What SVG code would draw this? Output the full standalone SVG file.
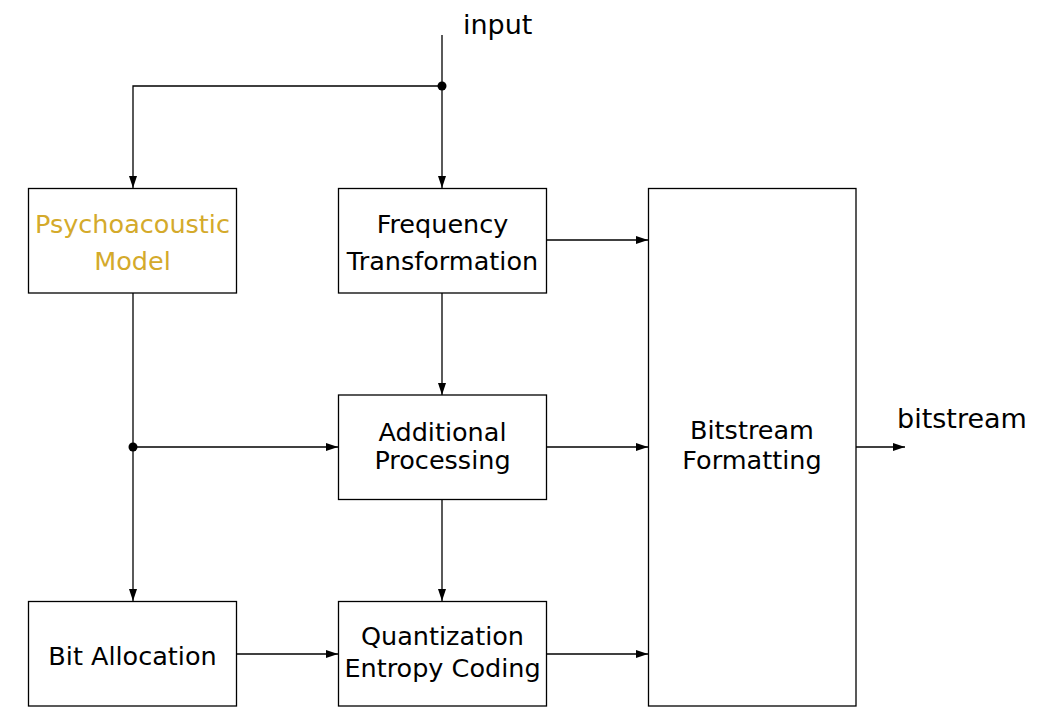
<svg xmlns="http://www.w3.org/2000/svg" width="1043" height="724" viewBox="0 0 1043 724">
<style>
.box{fill:#fff;stroke:#000;stroke-width:1.3}
.lbl{font-family:"DejaVu Sans",sans-serif;font-size:25.5px;fill:#000;text-anchor:middle}
.big{font-family:"DejaVu Sans",sans-serif;font-size:27px;fill:#000}
.gold{fill:#D4AA2B}
.w{fill:none;stroke:#000;stroke-width:1.3}
</style>
<defs>
<marker id="ah" markerUnits="userSpaceOnUse" markerWidth="13" markerHeight="10" refX="12" refY="5" orient="auto">
<path d="M0,1 L12,5 L0,9 z" fill="#000"/>
</marker>
</defs>
<g id="connectors">
<path class="w" d="M442,35 V188" marker-end="url(#ah)"/>
<path class="w" d="M442,86 H133 V188" marker-end="url(#ah)"/>
<path class="w" d="M133,293 V601" marker-end="url(#ah)"/>
<path class="w" d="M133,447 H338" marker-end="url(#ah)"/>
<path class="w" d="M442,293 V395" marker-end="url(#ah)"/>
<path class="w" d="M442,499 V601" marker-end="url(#ah)"/>
<path class="w" d="M236,654 H338" marker-end="url(#ah)"/>
<path class="w" d="M546,240 H648" marker-end="url(#ah)"/>
<path class="w" d="M546,447 H648" marker-end="url(#ah)"/>
<path class="w" d="M546,654 H648" marker-end="url(#ah)"/>
<path class="w" d="M856,447 H905" marker-end="url(#ah)"/>
<circle cx="442" cy="86" r="4.5" fill="#000"/>
<circle cx="133" cy="447" r="4.5" fill="#000"/>
</g>
<g id="input"><text class="big" x="463" y="34">input</text></g>
<g id="bitstream"><text class="big" x="897" y="428">bitstream</text></g>
<g id="psycho">
<rect class="box" x="28.5" y="188.5" width="208" height="104.5"/>
<text class="lbl gold" x="132.5" y="233">Psychoacoustic</text>
<text class="lbl gold" x="132.5" y="270">Model</text>
</g>
<g id="freq">
<rect class="box" x="338.5" y="188.5" width="208" height="104.5"/>
<text class="lbl" x="442.5" y="233">Frequency</text>
<text class="lbl" x="442.5" y="270">Transformation</text>
</g>
<g id="addproc">
<rect class="box" x="338.5" y="395" width="208" height="104.5"/>
<text class="lbl" x="442.5" y="441">Additional</text>
<text class="lbl" x="442.5" y="469">Processing</text>
</g>
<g id="quant">
<rect class="box" x="338.5" y="601.5" width="208" height="104.5"/>
<text class="lbl" x="442.5" y="645">Quantization</text>
<text class="lbl" x="442.5" y="677">Entropy Coding</text>
</g>
<g id="bitalloc">
<rect class="box" x="28.5" y="601.5" width="208" height="104.5"/>
<text class="lbl" x="132.5" y="665">Bit Allocation</text>
</g>
<g id="bsf">
<rect class="box" x="648.5" y="188.5" width="207.5" height="517.5"/>
<text class="lbl" x="752" y="439">Bitstream</text>
<text class="lbl" x="752" y="469">Formatting</text>
</g>
</svg>
